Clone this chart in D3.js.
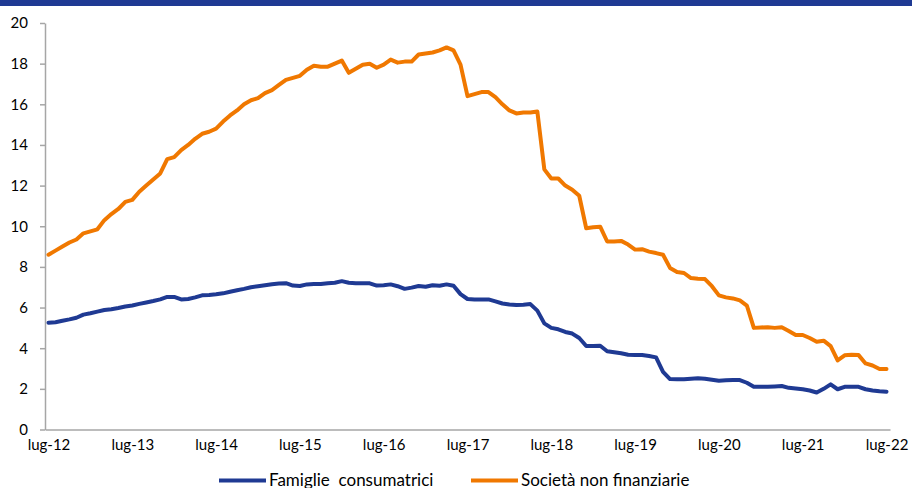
<!DOCTYPE html>
<html>
<head>
<meta charset="utf-8">
<script src="https://cdn.jsdelivr.net/npm/d3@7"></script>
<style>
  body { margin: 0; background: #fff; }
  text { font-family: Lato, "Open Sans", sans-serif; }
</style>
</head>
<body>
<div id="chart"></div>
<script>
// month names used to build the categories (lug-12 ... lug-22)
const monthNames = ["gen", "feb", "mar", "apr", "mag", "giu", "lug", "ago", "set", "ott", "nov", "dic"];
const tickLabels = ["lug-12", "lug-13", "lug-14", "lug-15", "lug-16", "lug-17", "lug-18", "lug-19", "lug-20", "lug-21", "lug-22"];
const yTicks = [0, 2, 4, 6, 8, 10, 12, 14, 16, 18, 20];

const categories = [];
for (let y = 12, m = 6; categories.length < 121; m++) {
  if (m === 12) { m = 0; y++; }
  categories.push(monthNames[m] + "-" + y);
}

// Famiglie consumatrici
const famiglie = [
  5.25, 5.28, 5.35, 5.42, 5.5, 5.65, 5.72, 5.8, 5.88, 5.92, 5.98, 6.05,
  6.1, 6.18, 6.25, 6.32, 6.4, 6.52, 6.52, 6.4, 6.42, 6.5, 6.6, 6.62,
  6.65, 6.7, 6.78, 6.85, 6.92, 7.0, 7.05, 7.1, 7.15, 7.18, 7.2, 7.08,
  7.06, 7.14, 7.16, 7.16, 7.2, 7.22, 7.3, 7.22, 7.2, 7.2, 7.19, 7.08,
  7.1, 7.14, 7.05, 6.92, 6.98, 7.06, 7.02, 7.1, 7.07, 7.14, 7.07, 6.66,
  6.42, 6.4, 6.4, 6.4, 6.3, 6.2, 6.15, 6.12, 6.14, 6.17, 5.85, 5.22,
  5.0, 4.93, 4.8, 4.72, 4.5, 4.11, 4.11, 4.12, 3.85, 3.8, 3.75, 3.68,
  3.66, 3.66, 3.62, 3.55, 2.84, 2.48, 2.47, 2.47, 2.5, 2.52, 2.5, 2.45,
  2.4, 2.42, 2.43, 2.43, 2.3, 2.1, 2.1, 2.1, 2.12, 2.14, 2.05, 2.02,
  1.98, 1.92, 1.82, 2.0, 2.22, 1.98, 2.1, 2.1, 2.1, 1.98, 1.92, 1.88,
  1.86
];

// Società non finanziarie
const societa = [
  8.6, 8.8, 9.0, 9.2, 9.35, 9.65, 9.75, 9.85, 10.3, 10.6, 10.85, 11.2,
  11.3, 11.7, 12.0, 12.3, 12.6, 13.3, 13.4, 13.75, 14.0, 14.3, 14.55, 14.65,
  14.8, 15.15, 15.45, 15.7, 16.0, 16.2, 16.3, 16.55, 16.7, 16.95, 17.2, 17.3,
  17.4, 17.7, 17.9, 17.85, 17.85, 18.0, 18.15, 17.55, 17.75, 17.95, 18.0, 17.8,
  17.95, 18.2, 18.05, 18.1, 18.1, 18.45, 18.5, 18.55, 18.65, 18.8, 18.65, 17.95,
  16.4, 16.5, 16.6, 16.6, 16.35, 16.0, 15.7, 15.55, 15.6, 15.6, 15.65, 12.8,
  12.35, 12.35, 12.0, 11.8, 11.5, 9.9, 9.95, 9.98, 9.25, 9.25, 9.28, 9.1,
  8.85, 8.87, 8.75, 8.68, 8.6, 7.95, 7.75, 7.7, 7.45, 7.42, 7.4, 7.05,
  6.6, 6.5, 6.45, 6.35, 6.1, 5.0, 5.02, 5.03, 5.0, 5.03, 4.85, 4.65,
  4.65, 4.5, 4.32, 4.37, 4.1, 3.4, 3.65, 3.68, 3.66, 3.25, 3.15, 2.98,
  2.98
];

const width = 912, height = 488;
const blue = "#1f3a93", orange = "#f07800", axisGrey = "#a6a6a6";

const svg = d3.select("#chart")
  .append("svg")
  .attr("width", width)
  .attr("height", height);

// top band
svg.append("rect")
  .attr("x", 0)
  .attr("y", 0)
  .attr("width", width)
  .attr("height", 6)
  .attr("fill", blue);

const x = d3.scalePoint()
  .domain(categories)
  .range([45, 890])
  .padding(0.5);

const y = d3.scaleLinear()
  .domain([0, 20])
  .range([429.5, 23]);

// y axis
const yAxis = svg.append("g")
  .attr("transform", "translate(45,0)")
  .call(d3.axisLeft(y).tickValues(yTicks).tickSize(5).tickSizeOuter(0).tickPadding(12));
yAxis.select(".domain").attr("stroke", axisGrey).attr("stroke-width", 1.5);
yAxis.selectAll(".tick line").attr("stroke", axisGrey).attr("stroke-width", 1.5);
yAxis.selectAll(".tick text").attr("font-size", 15).attr("fill", "#000")
  .attr("font-family", "Lato, 'Open Sans', sans-serif");

// x axis
const xAxis = svg.append("g")
  .attr("transform", "translate(0,429.5)")
  .call(d3.axisBottom(x).tickValues(tickLabels).tickSize(0).tickSizeOuter(0).tickPadding(10));
xAxis.select(".domain").attr("stroke", axisGrey).attr("stroke-width", 1.5);
xAxis.selectAll(".tick text").attr("font-size", 15).attr("fill", "#000")
  .attr("font-family", "Lato, 'Open Sans', sans-serif");

// lines
const line = d3.line()
  .x((d, i) => x(categories[i]))
  .y(d => y(d));

svg.append("path")
  .datum(famiglie)
  .attr("d", line)
  .attr("fill", "none")
  .attr("stroke", blue)
  .attr("stroke-width", 4)
  .attr("stroke-linejoin", "round")
  .attr("stroke-linecap", "round");

svg.append("path")
  .datum(societa)
  .attr("d", line)
  .attr("fill", "none")
  .attr("stroke", orange)
  .attr("stroke-width", 4)
  .attr("stroke-linejoin", "round")
  .attr("stroke-linecap", "round");

// legend
const legend = [
  { name: "Famiglie  consumatrici", color: blue, x: 219 },
  { name: "Società non finanziarie", color: orange, x: 471 }
];

const lg = svg.selectAll("g.legend")
  .data(legend)
  .enter()
  .append("g")
  .attr("class", "legend")
  .attr("transform", d => `translate(${d.x},480.5)`);

lg.append("line")
  .attr("x1", 0)
  .attr("x2", 47)
  .attr("stroke", d => d.color)
  .attr("stroke-width", 4);

lg.append("text")
  .attr("x", 50)
  .attr("dy", "0.35em")
  .attr("font-size", 17)
  .style("white-space", "pre")
  .text(d => d.name);
</script>
</body>
</html>
